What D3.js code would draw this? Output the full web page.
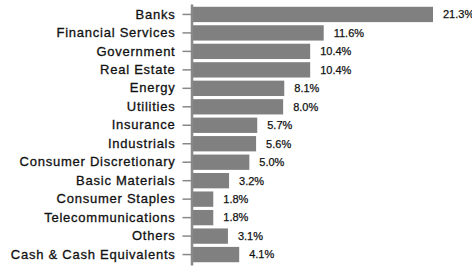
<!DOCTYPE html>
<html>
<head>
<script src="https://cdn.jsdelivr.net/npm/d3@7"></script>
<style>
  body { margin: 0; background: #fff; }
  svg text { font-family: "Liberation Sans", Arial, sans-serif; fill: #111; }
</style>
</head>
<body>
<script>
var categories = ["Banks", "Financial Services", "Government", "Real Estate", "Energy", "Utilities",
  "Insurance", "Industrials", "Consumer Discretionary", "Basic Materials", "Consumer Staples",
  "Telecommunications", "Others", "Cash & Cash Equivalents"];
var values = [21.3, 11.6, 10.4, 10.4, 8.1, 8.0, 5.7, 5.6, 5.0, 3.2, 1.8, 1.8, 3.1, 4.1];

var w = 472, h = 267;
var axisX = 191.5;

var svg = d3.select("body").append("svg")
  .attr("width", w)
  .attr("height", h);

var yScale = d3.scaleBand()
  .domain(categories)
  .range([4, 265])
  .paddingInner(0.17)
  .paddingOuter(0.15);

var xScale = d3.scaleLinear()
  .domain([0, 21.3])
  .range([193, 433]);

svg.selectAll("rect.bar")
  .data(values)
  .enter()
  .append("rect")
  .attr("class", "bar")
  .attr("x", xScale(0))
  .attr("y", function (d, i) { return yScale(categories[i]); })
  .attr("width", function (d) { return xScale(d) - xScale(0); })
  .attr("height", yScale.bandwidth())
  .attr("fill", "#808080");

// value labels right of each bar
svg.selectAll("text.val")
  .data(values)
  .enter()
  .append("text")
  .attr("class", "val")
  .attr("x", function (d) { return xScale(d) + 10; })
  .attr("y", function (d, i) { return yScale(categories[i]) + yScale.bandwidth() / 2; })
  .attr("dy", "0.35em")
  .attr("font-size", 11)
  .attr("stroke", "#111")
  .attr("stroke-width", 0.25)
  .text(function (d) { return d.toFixed(1) + "%"; });

var yAxis = d3.axisLeft(yScale).tickSize(9).tickSizeOuter(0).tickPadding(7);

var gy = svg.append("g")
  .attr("transform", "translate(" + axisX + ",0)")
  .call(yAxis);
gy.select(".domain").attr("stroke", "#888").attr("stroke-width", 2.5);
gy.selectAll(".tick line").attr("stroke", "#888").attr("stroke-width", 1.5);
gy.selectAll(".tick text")
  .attr("font-size", 13)
  .attr("font-family", null)
  .attr("fill", "#111")
  .attr("stroke", "#111")
  .attr("stroke-width", 0.3)
  .style("letter-spacing", "0.75px");
</script>
</body>
</html>
